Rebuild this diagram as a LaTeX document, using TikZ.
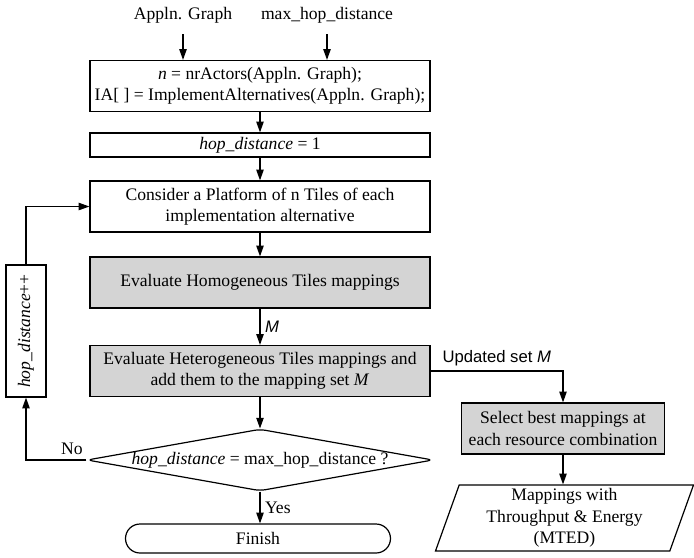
\documentclass[tikz,border=0pt]{standalone}
\usepackage{fontspec}
\setmainfont{Liberation Serif}
\setsansfont{Liberation Sans}
\usetikzlibrary{arrows.meta,shapes.geometric,shapes.misc}
\definecolor{boxgray}{RGB}{212,212,212}

\begin{document}
\begin{tikzpicture}[
    x=0.75pt, y=-0.75pt,
    every node/.style={font=\fontsize{13.2}{16}\selectfont, align=center},
    blk/.style={draw, line width=0.9pt, inner sep=0pt, minimum width=255pt},
    gblk/.style={blk, fill=boxgray},
    arr/.style={line width=0.9pt, -{Triangle[length=8pt,width=5.5pt]}},
    lbl/.style={font=\fontsize{12.5}{14}\sffamily}
]
\useasboundingbox (0,0) rectangle (694,558);

\node (appl) at (183,15) {Appln. Graph};
\node (maxhop) at (327,15) {max\_hop\_distance};

\node[blk, minimum height=38.25pt] (init) at (260,86)
  {\textit{n} = nrActors(Appln. Graph);\\IA[ ] = ImplementAlternatives(Appln. Graph);};
\node[blk, minimum height=18pt] (hop1) at (260,145) {\textit{hop\_distance} = 1};
\node[blk, minimum height=38.25pt] (plat) at (260,206.5)
  {Consider a Platform of n Tiles of each\\implementation alternative};
\node[gblk, minimum height=38.25pt] (homo) at (260,282.5) {Evaluate Homogeneous Tiles mappings};
\node[gblk, minimum height=38.25pt] (hetero) at (260,371)
  {Evaluate Heterogeneous Tiles mappings and\\add them to the mapping set \textit{M}};
\node[diamond, draw, line width=0.9pt, aspect=5.6, inner sep=0pt, rounded corners=4pt] (dec) at (260,460)
  {\textit{hop\_distance} = max\_hop\_distance ?};
\node[rounded rectangle, draw, line width=0.9pt, inner sep=0pt,
      minimum width=198.75pt, minimum height=21.75pt] (fin) at (258,538.5) {Finish};

\node[draw, line width=0.9pt, rotate=90, inner sep=0pt,
      minimum width=99pt, minimum height=30pt] (hopinc) at (26,331) {\textit{hop\_distance}++};

\node[gblk, minimum width=152.25pt, minimum height=38.25pt] (sel) at (563,428.5)
  {Select best mappings at\\each resource combination};
\node[trapezium, draw, line width=0.9pt, trapezium left angle=68, trapezium right angle=112,
      trapezium stretches body, inner sep=0pt, minimum width=193.5pt, minimum height=49.5pt] (mted) at (564.5,518)
  {Mappings with\\Throughput \& Energy\\(MTED)};

\draw[arr, shorten <=5pt] (appl) -- (appl |- init.north);
\draw[arr, shorten <=5pt] (maxhop) -- (maxhop |- init.north);
\draw[arr] (init) -- (hop1);
\draw[arr] (hop1) -- (plat);
\draw[arr] (plat) -- (homo);
\draw[arr] (homo) -- node[right, lbl] {\textit{M}} (hetero);
\draw[arr] (hetero) -- (dec);
\draw[arr] (dec) -- node[right] {Yes} (dec |- fin.north);

\draw[arr] (dec.west) -| node[above, pos=0.12] {No} (hopinc.west);
\draw[arr] (hopinc.east) |- (plat.west);

\draw[arr] (hetero.east) -| node[above, pos=0.25, lbl] {Updated set \textit{M}} (sel.north);
\draw[arr] (sel) -- (sel |- mted.north);

\end{tikzpicture}
\end{document}
